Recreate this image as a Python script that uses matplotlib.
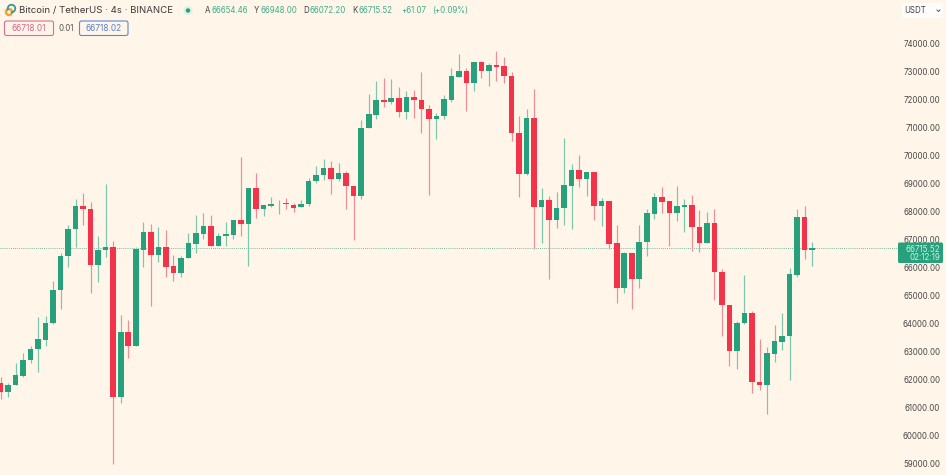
import matplotlib
matplotlib.use("Agg")
import matplotlib.pyplot as plt
from matplotlib.patches import FancyBboxPatch, Circle, Arc

opens = [61904,61571,61809,62142,62702,63095,63428,64023,65202,66428,
         67392,68226,68107,66107,66630,66750,61392,63702,63226,66654,
         67285,66464,66738,66071,65821,66345,66869,67214,67500,66773,
         67131,67190,67714,67583,68845,68095,68226,68273,68309,68262,
         68167,68274,69107,69310,69560,69179,69393,68941,68571,70988,
         71464,71988,71941,72060,71571,72107,72012,71691,71321,71417,
         72012,72821,73048,72619,73345,73048,73262,73214,72857,70833,
         69369,71369,68190,68417,67726,68143,68941,69488,69179,69417,
         68226,68393,66893,65274,66524,65619,66929,67941,68524,68393,
         67965,68179,68250,67465,66893,67607,65858,64691,63048,64024,
         64393,61929,61822,62929,63369,63572,65750,67834,66643]
closes = [61571,61821,62166,62714,63107,63452,64047,65214,66428,67392,
          68226,68095,66107,66642,66750,61392,63702,63226,66666,67285,
          66464,66738,66047,65821,66369,66892,67238,67500,66785,67143,
          67214,67714,67583,68845,68095,68238,68285,68297,68273,68154,
          68286,69119,69321,69560,69179,69393,68917,68583,71000,71488,
          71988,71941,72060,71571,72107,72000,71679,71321,71441,72036,
          72845,73048,72619,73357,73048,73262,73191,72845,70833,69369,
          71369,68190,68417,67714,68155,68964,69488,69179,69429,68226,
          68393,66869,65274,66524,65619,66941,67953,68524,68369,67965,
          68203,68250,67453,66893,67607,65846,64679,63048,64048,64393,
          61917,61822,62953,63381,63584,65774,67834,66631,66715]
highs = [62095,61880,62595,62952,63214,64238,64297,65535,66547,67523,
         68464,68690,68369,67143,68988,66976,64333,64142,66761,67643,
         67571,67452,67357,66452,66428,67262,67892,67976,67892,67238,
         67643,67714,69976,68845,69381,68238,68524,68428,68488,68309,
         68417,69202,69643,69881,69833,69762,69464,68941,71286,72214,
         72667,72798,72750,72452,72333,72357,72988,71821,71524,72179,
         73155,73643,73155,73357,73405,73310,73762,73524,73012,71429,
         71679,72405,68845,68571,68714,70643,69726,70024,69429,69417,
         68488,68393,67536,66572,66548,67524,68096,68679,68905,68393,
         68929,68464,68608,68072,67988,68107,65964,64691,64119,65750,
         64476,63453,63191,63964,64393,65988,68096,68226,66929]
lows = [61333,61381,61809,62095,62595,62297,63226,63999,64535,66023,
        66762,67523,65095,65500,66381,59011,61166,62773,63226,66023,
        64654,66226,65690,65547,65666,66345,66547,67023,66785,66773,
        66785,67047,67143,66071,67785,67869,68166,67928,68095,68000,
        68167,68214,69024,69143,68643,69119,68095,67000,68452,70988,
        71310,71738,71857,71405,71310,71369,70810,68607,70595,71333,
        71929,72821,71619,72321,72774,72512,72679,72619,70548,68548,
        69321,66690,66881,65595,67429,67524,67405,68905,68583,67714,
        67512,66667,64762,65107,64536,65298,66441,67762,67953,66786,
        67691,67286,66619,66560,66893,64857,63584,62488,62393,64000,
        61548,61655,60774,62631,63072,62012,65667,66322,66072]
price_ticks = [74000,73000,72000,71000,70000,69000,68000,67000,66000,65000,
               64000,63000,62000,61000,60000,59000]
last_price = 66715.52
price_label = "66715.52"
countdown = "02:12:19"
title = "Bitcoin / TetherUS · 4s · BINANCE"
ohlc_segments = [("A", "66654.46"), ("Y", "66948.00"), ("D", "66072.20"), ("K", "66715.52")]
change_text = ["+61.07", "(+0.09%)"]
bid, spread, ask = "66718.01", "0.01", "66718.02"
currency = "USDT"

BG = "#fff5e9"
GREEN = "#26a17b"
RED = "#f23349"
W, H = 946, 475
FONT = "Inter"

fig = plt.figure(figsize=(W/100, H/100), dpi=100, facecolor=BG)
ax = fig.add_axes([0, 0, 1, 1], facecolor=BG)

STEP = 7.515
ax.set_xlim(-0.5/STEP, (W-0.5)/STEP)
PX = 1000/28
ax.set_ylim(74000-(H-44)*PX, 74000+44*PX)

xs = list(range(len(opens)))
cols = [GREEN if c >= o else RED for o, c in zip(opens, closes)]
wick_cols = ["#7cc6ae" if c >= o else "#f08c96" for o, c in zip(opens, closes)]

ax.vlines(xs, lows, highs, colors=wick_cols, linewidth=0.85, zorder=2)
ax.bar(xs, [abs(c-o) for o, c in zip(opens, closes)],
       bottom=[min(o, c) for o, c in zip(opens, closes)],
       width=0.74, color=cols, linewidth=0, zorder=3)

ax.axhline(last_price, xmin=0, xmax=898/W, color="#3f9c80", linewidth=0.6,
           linestyle=(0, (1, 1.5)), alpha=0.9, zorder=1)

for s in ax.spines.values():
    s.set_visible(False)
ax.set_xticks([])
ax.yaxis.tick_right()
ax.set_yticks(price_ticks)
ax.set_yticklabels([f"{p:.2f}" for p in price_ticks], family=FONT, fontsize=5.7,
                   color="#4a4a4a", ha="right")
ax.tick_params(axis="y", length=0, pad=-4.3)

ov = fig.add_axes([0, 0, 1, 1], facecolor="none")
ov.set_xlim(0, W)
ov.set_ylim(H, 0)
ov.axis("off")

def box(x0, y0, x1, y1, fc, ec, lw=0.8, r=2):
    ov.add_patch(FancyBboxPatch((x0+r, y0+r), x1-x0-2*r, y1-y0-2*r,
                                boxstyle=f"round,pad={r},rounding_size={r}",
                                fc=fc, ec=ec, lw=lw, zorder=5))

def txt(x, y, s, size=5.7, color="#333333", ha="left"):
    ov.text(x, y, s, fontsize=size, color=color, ha=ha, va="center", family=FONT, zorder=6)

box(898, 242.5, 943, 263, GREEN, GREEN, lw=0, r=1.5)
txt(940, 249.2, price_label, size=5.8, color="#cfeee4", ha="right")
txt(940, 257.8, countdown, size=5.8, color="#cfeee4", ha="right")

ov.add_patch(Circle((9, 12), 4.2, fc="#f0a030", ec="none", zorder=5))
ov.add_patch(Arc((11.5, 8.5), 7.5, 7.5, theta1=0, theta2=360, ec="#2f9c9c", lw=1.3, zorder=6))
ov.add_patch(Circle((9, 12), 1.8, fc=BG, ec="none", zorder=7))
txt(18.5, 10.5, title, size=6.95, color="#3a3a3a")

ov.add_patch(Circle((188, 10.5), 4.5, fc="#dff0e2", ec="none", zorder=5))
ov.add_patch(Circle((188, 10.5), 2.2, fc=GREEN, ec="none", zorder=6))

label_x = [205, 254, 303, 352]
value_x = [211, 260, 309, 358]
for (lab, val), lx, vx in zip(ohlc_segments, label_x, value_x):
    txt(lx, 10.5, lab, color="#444444")
    txt(vx, 10.5, val, color="#3fae8c")
txt(401, 10.5, change_text[0], color="#3fae8c")
txt(432, 10.5, change_text[1], color="#3fae8c")

box(4.5, 21, 53.5, 35.5, BG, "#dc6f90")
txt(29, 28.5, bid, size=6.0, color="#d9668a", ha="center")
txt(58, 28.5, spread, size=5.7, color="#555555")
box(79.5, 21, 128, 35.5, BG, "#5f86d8")
txt(103.7, 28.5, ask, size=6.0, color="#5a80d0", ha="center")

box(902, 3, 943, 18, "#fffdfb", "none", lw=0, r=2)
txt(904, 10.5, currency, size=5.7, color="#444444")
ov.plot([937, 938.5, 940], [10, 11.5, 10], color="#555555", lw=0.7, zorder=6)

fig.savefig("out.png", dpi=100, facecolor=BG)
